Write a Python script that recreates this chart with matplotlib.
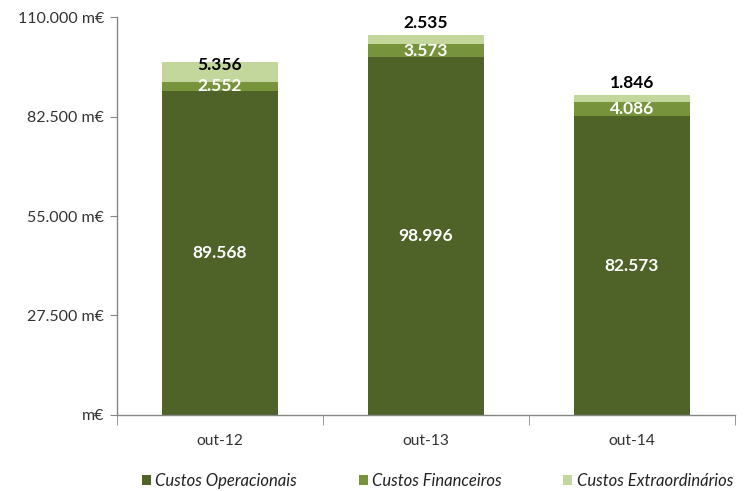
import matplotlib
matplotlib.use("Agg")
import matplotlib.pyplot as plt
from matplotlib.ticker import FixedLocator
import numpy as np

categories = ["out-12", "out-13", "out-14"]
operacionais = [89568, 98996, 82573]
financeiros = [2552, 3573, 4086]
extraordinarios = [5356, 2535, 1846]
series_names = ["Custos Operacionais", "Custos Financeiros", "Custos Extraordinários"]
y_ticks = [0, 27500, 55000, 82500, 110000]
y_tick_labels = ["m€", "27.500 m€", "55.000 m€", "82.500 m€", "110.000 m€"]

def fmt(v):
    return f"{v:,}".replace(",", ".")

plt.rcParams["font.family"] = ["Lato", "DejaVu Sans"]

fig = plt.figure(figsize=(7.44, 4.91), dpi=100)
ax = fig.add_axes([0.157, 0.155, 0.831, 0.81])

colors = ["#4F6228", "#77933C", "#C3D69B"]
x = np.arange(len(categories))
width = 0.56

b1 = np.array(operacionais, dtype=float)
b2 = b1 + np.array(financeiros)
ax.bar(x, operacionais, width, color=colors[0], label=series_names[0], zorder=2)
ax.bar(x, financeiros, width, bottom=b1, color=colors[1], label=series_names[1], zorder=2)
ax.bar(x, extraordinarios, width, bottom=b2, color=colors[2], label=series_names[2], zorder=2)

label_size = 12.5
for i in range(len(categories)):
    ax.text(x[i], operacionais[i] / 2, fmt(operacionais[i]), ha="center", va="center",
            color="white", fontsize=label_size, fontweight="bold")
    ax.text(x[i], b1[i] + financeiros[i] / 2, fmt(financeiros[i]), ha="center", va="center",
            color="white", fontsize=label_size, fontweight="bold")
    top = b2[i] + extraordinarios[i]
    offset = -1.5 if i == 0 else 8.5
    ax.annotate(fmt(extraordinarios[i]), (x[i], top), xytext=(0, offset),
                textcoords="offset points", ha="center", va="center",
                color="black", fontsize=label_size, fontweight="bold")

ax.set_xlim(-0.5, len(categories) - 0.5)
ax.set_ylim(0, 110000)
ax.set_yticks(y_ticks)
ax.set_yticklabels(y_tick_labels, fontsize=11.5, color="#333333")
ax.set_xticks(x)
ax.set_xticklabels(categories, fontsize=11.2, color="#333333")
ax.xaxis.set_minor_locator(FixedLocator(np.arange(-0.5, len(categories), 1.0)))
ax.tick_params(axis="x", which="major", length=0, pad=14)
ax.tick_params(axis="x", which="minor", length=7, color="#868686", direction="out")
ax.tick_params(axis="y", length=5, color="#868686", direction="out", pad=4)

for s in ["top", "right"]:
    ax.spines[s].set_visible(False)
for s in ["left", "bottom"]:
    ax.spines[s].set_color("#868686")
    ax.spines[s].set_linewidth(1)

leg = fig.legend(loc="center", bbox_to_anchor=(0.588, 0.021), ncol=3, frameon=False,
                 prop={"style": "italic", "size": 12}, handlelength=0.55, handleheight=0.55,
                 handletextpad=0.25, columnspacing=3.7, borderpad=0.0)
for t in leg.get_texts():
    t.set_color("#222222")

fig.savefig("out.png", dpi=100)
